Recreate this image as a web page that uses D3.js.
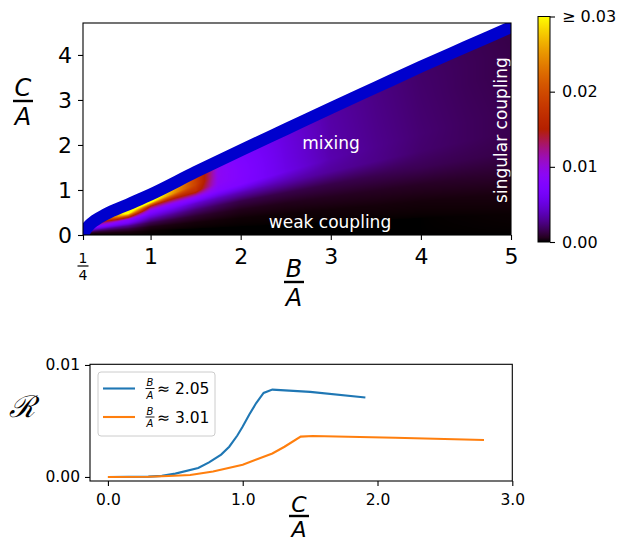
<!DOCTYPE html>
<html>
<head>
<meta charset="utf-8">
<script src="https://cdn.jsdelivr.net/npm/d3@7"></script>
<style>
body { margin: 0; background: #fff; }
svg { font-family: "DejaVu Sans", sans-serif; }
</style>
</head>
<body>
<script>
// upper edge of the region (centre of the blue band), C/A against B/A
var edgeB = [0.25, 0.28, 0.32, 0.38, 0.5, 0.75, 1, 1.5, 2, 2.5, 3, 3.5, 4, 4.5, 5];
var edgeC = [0, 0.12, 0.22, 0.32, 0.46, 0.68, 0.9, 1.4, 1.88, 2.35, 2.82, 3.28, 3.74, 4.18, 4.62];

// heat map: columns at B/A, rows at fraction of the edge height
var colB = [0.3, 0.5, 0.75, 1, 1.25, 1.5, 1.75, 2, 2.5, 3, 3.5, 4, 4.5, 5];
var rowT = [0, 0.1, 0.2, 0.3, 0.4, 0.5, 0.6, 0.7, 0.8, 0.9, 1];
// R in units of 1e-3, one line per column
var rGrid = [
  [0, 0.2, 0.8, 2, 3.5, 5, 7, 9, 11, 12, 12],
  [0, 0.3, 1.2, 3, 6, 9, 12, 16, 20, 24, 24],
  [0, 0.3, 1.2, 3, 6.5, 8.5, 18, 31, 35, 35, 35],
  [0, 0.05, 0.4, 1.5, 3.5, 6, 8.5, 14, 30, 35, 35],
  [0, 0, 0.3, 1.2, 3, 5.5, 8.5, 15, 25, 27, 27],
  [0, 0, 0.2, 0.9, 2.3, 4.5, 9, 17, 19, 19, 19],
  [0, 0, 0.15, 0.7, 1.8, 4, 7.8, 8.8, 9, 9, 9],
  [0, 0, 0.1, 0.5, 1.4, 3.8, 7.5, 7.7, 7.6, 7.3, 7.1],
  [0, 0, 0.1, 0.5, 1.4, 3.5, 5.4, 5.3, 5.2, 5.1, 5.0],
  [0, 0, 0.15, 0.6, 1.4, 3.1, 3.6, 3.5, 3.45, 3.4, 3.3],
  [0, 0, 0.2, 0.65, 1.5, 2.7, 2.8, 2.75, 2.7, 2.65, 2.6],
  [0, 0, 0.2, 0.7, 1.6, 2.1, 2.2, 2.15, 2.1, 2.05, 2.0],
  [0, 0.02, 0.25, 0.8, 1.5, 1.8, 1.8, 1.75, 1.7, 1.7, 1.65],
  [0, 0.05, 0.3, 0.9, 1.4, 1.5, 1.5, 1.45, 1.4, 1.4, 1.35]
];
var rUnit = 1e-3;

// cuts for the lower panel
var cutA_C = [0, 0.3, 0.4, 0.5, 0.67, 0.75, 0.84, 0.9, 0.96, 1.0, 1.05, 1.1, 1.155, 1.22, 1.5, 1.91];
var cutA_R = [0, 0.00003, 0.0001, 0.0003, 0.0008, 0.0013, 0.002, 0.0027, 0.0037, 0.0045, 0.0056, 0.0066, 0.0075, 0.0078, 0.0076, 0.0071];
var cutB_C = [0, 0.3, 0.45, 0.61, 0.78, 1.0, 1.22, 1.31, 1.43, 1.52, 2.13, 2.79];
var cutB_R = [0, 0.00002, 0.00008, 0.00018, 0.00048, 0.0011, 0.0021, 0.0027, 0.0036, 0.00366, 0.0035, 0.0033];
var cutLabels = ["2.05", "3.01"];
var cutColors = ["#1f77b4", "#ff7f0e"];

var topTicksX = [0.25, 1, 2, 3, 4, 5];
var topTicksY = [0, 1, 2, 3, 4];
var barTicks = [0, 0.01, 0.02, 0.03];
var botTicksX = [0, 1, 2, 3];
var botTicksY = [0, 0.01];

var W = 626, H = 541;
var svg = d3.select("body").append("svg").attr("width", W).attr("height", H);

// matplotlib "gnuplot" colour map
function gnuplot(x) {
  x = Math.max(0, Math.min(1, x));
  var r = Math.sqrt(x), g = x * x * x, b = Math.max(0, Math.sin(2 * Math.PI * x));
  return [Math.round(r * 255), Math.round(g * 255), Math.round(b * 255)];
}
var vmax = 0.03;

// ---------- top panel ----------
var xT = d3.scaleLinear().domain([0.25, 5]).range([83, 511]);
var yT = d3.scaleLinear().domain([0, 4.71]).range([235, 23]);
var pw = 511 - 83, ph = 235 - 23;

svg.append("clipPath").attr("id", "clipTop")
  .append("rect").attr("x", 83).attr("y", 23).attr("width", pw).attr("height", ph);

function edgeAt(b) {
  var i = d3.bisectRight(edgeB, b) - 1;
  i = Math.max(0, Math.min(edgeB.length - 2, i));
  var f = (b - edgeB[i]) / (edgeB[i + 1] - edgeB[i]);
  return edgeC[i] + f * (edgeC[i + 1] - edgeC[i]);
}
function gridAt(b, t) {
  var i = d3.bisectRight(colB, b) - 1;
  i = Math.max(0, Math.min(colB.length - 2, i));
  var fx = Math.max(0, Math.min(1, (b - colB[i]) / (colB[i + 1] - colB[i])));
  var j = Math.max(0, Math.min(rowT.length - 2, Math.floor(t / 0.1)));
  var fy = Math.max(0, Math.min(1, (t - rowT[j]) / (rowT[j + 1] - rowT[j])));
  var a = rGrid[i][j] * (1 - fy) + rGrid[i][j + 1] * fy;
  var c = rGrid[i + 1][j] * (1 - fy) + rGrid[i + 1][j + 1] * fy;
  return (a * (1 - fx) + c * fx) * rUnit;
}

var canvas = document.createElement("canvas");
canvas.width = pw; canvas.height = ph;
var ctx = canvas.getContext("2d");
var img = ctx.createImageData(pw, ph);
for (var py = 0; py < ph; py++) {
  for (var px = 0; px < pw; px++) {
    var bb = xT.invert(83 + px + 0.5), cc = yT.invert(23 + py + 0.5);
    var k = (py * pw + px) * 4;
    if (bb < colB[0]) continue;
    var edge = edgeAt(bb);
    if (cc > edge + 0.05) continue;
    var col = gnuplot(gridAt(bb, Math.min(1, cc / edge)) / vmax);
    img.data[k] = col[0]; img.data[k + 1] = col[1]; img.data[k + 2] = col[2]; img.data[k + 3] = 255;
  }
}
ctx.putImageData(img, 0, 0);

var gTop = svg.append("g").attr("clip-path", "url(#clipTop)");
gTop.append("image").attr("x", 83).attr("y", 23).attr("width", pw).attr("height", ph)
  .attr("preserveAspectRatio", "none").attr("href", canvas.toDataURL());

gTop.append("path")
  .datum(edgeB.map(function (d, i) { return [d, edgeC[i]]; }))
  .attr("d", d3.line().x(function (d) { return xT(d[0]); }).y(function (d) { return yT(d[1]); }).curve(d3.curveMonotoneX))
  .attr("fill", "none").attr("stroke", "#0000cd").attr("stroke-width", 12).attr("stroke-linecap", "round");

// annotations
svg.append("text").attr("x", 331).attr("y", 149).attr("text-anchor", "middle")
  .attr("fill", "#fff").attr("font-size", 17).text("mixing");
svg.append("text").attr("x", 330).attr("y", 228).attr("text-anchor", "middle")
  .attr("fill", "#fff").attr("font-size", 17).text("weak coupling");
svg.append("text").attr("transform", "translate(507,130) rotate(-90)").attr("text-anchor", "middle")
  .attr("fill", "#fff").attr("font-size", 17).text("singular coupling");

svg.append("rect").attr("x", 83).attr("y", 23).attr("width", pw).attr("height", ph)
  .attr("fill", "none").attr("stroke", "#000").attr("stroke-width", 1.1);

function styleAxis(g, fs) {
  g.select(".domain").remove();
  g.selectAll(".tick line").attr("stroke", "#000").attr("stroke-width", 1.1);
  g.selectAll(".tick text").attr("fill", "#000").attr("font-size", fs).attr("font-family", "DejaVu Sans");
}

var axTX = svg.append("g").attr("transform", "translate(0,235)")
  .call(d3.axisBottom(xT).tickValues(topTicksX).tickSize(5).tickPadding(8)
    .tickFormat(function (d) { return d === 0.25 ? "" : d; }));
styleAxis(axTX, 22);
var axTY = svg.append("g").attr("transform", "translate(83,0)")
  .call(d3.axisLeft(yT).tickValues(topTicksY).tickSize(5).tickPadding(6).tickFormat(d3.format("d")));
styleAxis(axTY, 22);

// fraction helper
function frac(x, yLine, num, den, fs, len, lw, italic, gap) {
  var g = svg.append("g");
  var st = italic ? "italic" : "normal";
  gap = gap || 0.22;
  g.append("text").attr("x", x).attr("y", yLine - fs * gap).attr("text-anchor", "middle")
    .attr("font-size", fs).attr("font-style", st).text(num);
  g.append("line").attr("x1", x - len / 2).attr("x2", x + len / 2).attr("y1", yLine).attr("y2", yLine)
    .attr("stroke", "#000").attr("stroke-width", lw);
  g.append("text").attr("x", x).attr("y", yLine + fs * 0.78 + fs * gap).attr("text-anchor", "middle")
    .attr("font-size", fs).attr("font-style", st).text(den);
  return g;
}
frac(xT(0.25), 266, "1", "4", 14, 11, 1.2, false);
frac(23, 101, "C", "A", 24, 20, 2.4, true);
frac(294, 282, "B", "A", 24, 20, 2.4, true);

// colour bar
var cb = d3.scaleLinear().domain([0, 0.03]).range([242, 16.5]);
var grad = svg.append("defs").append("linearGradient").attr("id", "cbGrad")
  .attr("x1", 0).attr("x2", 0).attr("y1", 1).attr("y2", 0);
d3.range(0, 1.0001, 0.02).forEach(function (s) {
  var c = gnuplot(s);
  grad.append("stop").attr("offset", s).attr("stop-color", "rgb(" + c.join(",") + ")");
});
svg.append("rect").attr("x", 538).attr("y", cb(0.03)).attr("width", 12).attr("height", cb(0) - cb(0.03))
  .attr("fill", "url(#cbGrad)").attr("stroke", "#000").attr("stroke-width", 1);
var axCB = svg.append("g").attr("transform", "translate(550,0)")
  .call(d3.axisRight(cb).tickValues(barTicks).tickSize(5).tickPadding(7)
    .tickFormat(function (d) { return d === 0.03 ? "\u2265 0.03" : d3.format(".2f")(d); }));
styleAxis(axCB, 16);

// ---------- bottom panel ----------
var xB = d3.scaleLinear().domain([-0.133, 3.0]).range([90, 512.3]);
var yB = d3.scaleLinear().domain([-0.00036, 0.01006]).range([481, 364.3]);

var cuts = [[cutA_C, cutA_R], [cutB_C, cutB_R]];
var lineB = d3.line().x(function (d) { return xB(d[0]); }).y(function (d) { return yB(d[1]); });
cuts.forEach(function (cu, k) {
  svg.append("path").datum(cu[0].map(function (c, i) { return [c, cu[1][i]]; }))
    .attr("d", lineB).attr("fill", "none").attr("stroke", cutColors[k]).attr("stroke-width", 2.1);
});

svg.append("rect").attr("x", 90).attr("y", 364.3).attr("width", 512.3 - 90).attr("height", 481 - 364.3)
  .attr("fill", "none").attr("stroke", "#000").attr("stroke-width", 1.1);

var axBX = svg.append("g").attr("transform", "translate(0,481)")
  .call(d3.axisBottom(xB).tickValues(botTicksX).tickSize(5).tickPadding(8).tickFormat(d3.format(".1f")));
styleAxis(axBX, 15.5);
var axBY = svg.append("g").attr("transform", "translate(90,0)")
  .call(d3.axisLeft(yB).tickValues(botTicksY).tickSize(5).tickPadding(5).tickFormat(d3.format(".2f")));
styleAxis(axBY, 15.5);

// legend
var leg = svg.append("g");
leg.append("rect").attr("x", 98).attr("y", 372).attr("width", 117).attr("height", 64).attr("rx", 3)
  .attr("fill", "#fff").attr("fill-opacity", 0.8).attr("stroke", "#ccc");
[388.5, 417].forEach(function (yy, k) {
  leg.append("line").attr("x1", 103).attr("x2", 135).attr("y1", yy).attr("y2", yy)
    .attr("stroke", cutColors[k]).attr("stroke-width", 2.1);
  frac(150, yy, "B", "A", 10, 9, 0.9, true);
  leg.append("text").attr("x", 157).attr("y", yy + 5.5).attr("font-size", 15.5).text("\u2248 " + cutLabels[k]);
});

svg.append("text").attr("x", 22).attr("y", 417).attr("text-anchor", "middle")
  .attr("font-size", 30).attr("font-style", "italic").attr("font-family", "DejaVu Serif").text("\u211B");
frac(299, 516, "C", "A", 22, 20, 2.4, true, 0.16);
</script>
</body>
</html>
